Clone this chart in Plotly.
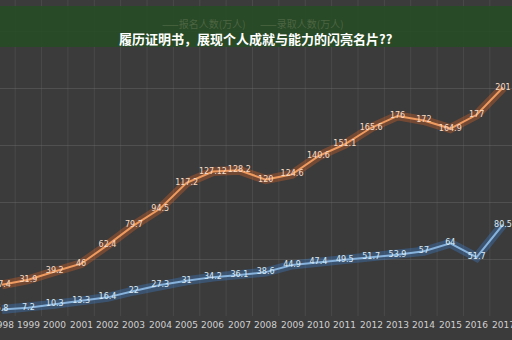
import plotly.graph_objects as go

years = list(range(1998, 2018))
applicants = [27.4, 31.9, 39.2, 46, 62.4, 79.7, 94.5, 117.2, 127.12, 128.2,
              120, 124.6, 140.6, 151.1, 165.6, 176, 172, 164.9, 177, 201]
admitted = [5.8, 7.2, 10.3, 13.3, 16.4, 22, 27.3, 31, 34.2, 36.1,
            38.6, 44.9, 47.4, 49.5, 51.7, 53.9, 57, 64, 51.7, 80.5]
year_labels = [str(y) for y in years]
title_text = "履历证明书，展现个人成就与能力的闪亮名片??"
legend_names = ["报名人数(万人)", "录取人数(万人)"]

fig = go.Figure()

# glow layers
fig.add_trace(go.Scatter(x=years, y=applicants, mode="lines",
                         line=dict(color="rgba(220,100,40,0.35)", width=9),
                         hoverinfo="skip", showlegend=False))
fig.add_trace(go.Scatter(x=years, y=admitted, mode="lines",
                         line=dict(color="rgba(60,130,210,0.35)", width=9),
                         hoverinfo="skip", showlegend=False))
# main lines
fig.add_trace(go.Scatter(x=years, y=applicants, mode="lines+text",
                         line=dict(color="#ef9a5e", width=2),
                         text=[f"{v:g}" for v in applicants],
                         textposition="middle center",
                         textfont=dict(family="DejaVu Sans", size=8, color="#f6dcc8"),
                         name=legend_names[0], showlegend=False))
fig.add_trace(go.Scatter(x=years, y=admitted, mode="lines+text",
                         line=dict(color="#86b2dc", width=2),
                         text=[f"{v:g}" for v in admitted],
                         textposition="middle center",
                         textfont=dict(family="DejaVu Sans", size=8, color="#dceaf4"),
                         name=legend_names[1], showlegend=False))

# vertical gridlines at category boundaries
for y0 in years:
    fig.add_shape(type="line", xref="x", yref="paper", x0=y0 + 0.5, x1=y0 + 0.5,
                  y0=0, y1=1, line=dict(color="rgba(120,120,120,0.25)", width=1),
                  layer="below")

# x tick labels as annotations (so edge labels are kept)
for yr, lab in zip(years, year_labels):
    fig.add_annotation(xref="x", yref="paper", x=yr, y=-9 / 316, text=lab,
                       showarrow=False, yanchor="middle",
                       font=dict(family="DejaVu Sans", size=9, color="#d0d0d0"))

# green banner
fig.add_shape(type="rect", xref="paper", yref="paper", x0=0, x1=1,
              y0=1 - 47 / 316, y1=1 - 6 / 316,
              fillcolor="rgba(40,75,38,0.94)", line=dict(width=0), layer="above")

# faint legend behind the banner
fig.add_annotation(xref="paper", yref="paper", x=160 / 512, y=1 - 14 / 316,
                   text="——" + legend_names[0], showarrow=False, xanchor="left",
                   font=dict(family="Noto Sans CJK SC", size=10, color="rgba(100,120,85,0.6)"))
fig.add_annotation(xref="paper", yref="paper", x=258 / 512, y=1 - 14 / 316,
                   text="——" + legend_names[1], showarrow=False, xanchor="left",
                   font=dict(family="Noto Sans CJK SC", size=10, color="rgba(100,120,85,0.6)"))

fig.add_annotation(xref="paper", yref="paper", x=0.5, y=1 - 27 / 316,
                   text="<b>" + title_text + "</b>", showarrow=False,
                   font=dict(family="Noto Sans CJK SC", size=13, color="#ffffff"))

fig.update_layout(
    width=512, height=340,
    margin=dict(l=0, r=0, t=0, b=24),
    paper_bgcolor="#3b3b3b", plot_bgcolor="#3b3b3b",
    showlegend=False,
    xaxis=dict(range=[1997.924, 2017.341], showticklabels=False, showgrid=False,
               zeroline=False, ticks="", fixedrange=True),
    yaxis=dict(range=[0, 278.0], showticklabels=False, tickvals=[0, 50, 100, 150, 200, 250],
               gridcolor="rgba(120,120,120,0.35)", zeroline=False, fixedrange=True),
)

fig.write_html("out.html")
